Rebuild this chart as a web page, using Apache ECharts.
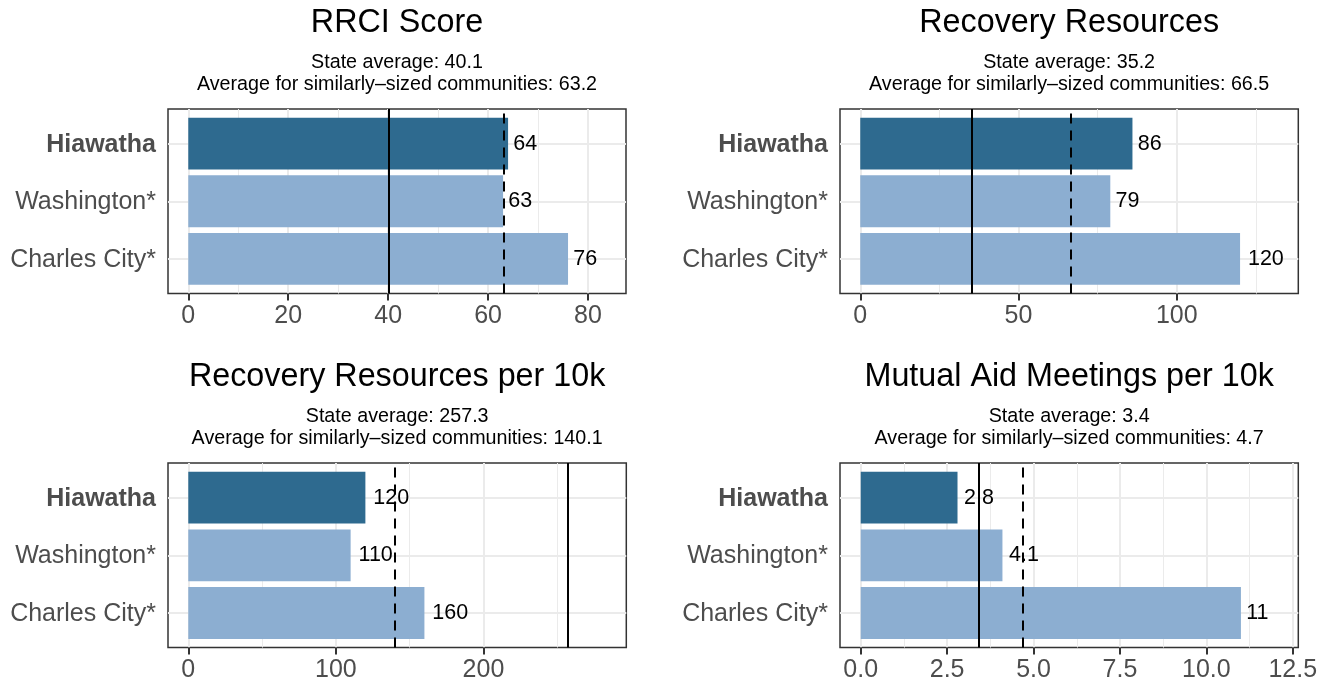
<!DOCTYPE html>
<html>
<head>
<meta charset="utf-8">
<script src="https://cdn.jsdelivr.net/npm/echarts@6/dist/echarts.min.js"></script>
<style>
  html, body { margin: 0; padding: 0; background: #fff; }
  #chart { width: 1328px; height: 683px; }
</style>
</head>
<body>
<div id="chart"></div>
<script>
const FONT = '"Liberation Sans", Arial, Helvetica, sans-serif';

// data
const categories = ['Hiawatha', 'Washington*', 'Charles City*'];
const focusCommunity = 'Hiawatha';
const panelTitles = ['RRCI Score', 'Recovery Resources', 'Recovery Resources per 10k', 'Mutual Aid Meetings per 10k'];
const rrciScore = [64, 63, 76];
const recoveryResources = [86, 79, 120];
const resourcesPer10k = [120, 110, 160];
const meetingsPer10k = [2.8, 4.1, 11];
const stateAverages = [40.1, 35.2, 257.3, 3.4];
const peerAverages = [63.2, 66.5, 140.1, 4.7];
const majorTicks = [[0, 20, 40, 60, 80], [0, 50, 100], [0, 100, 200], [0, 2.5, 5, 7.5, 10, 12.5]];
const minorTicks = [[10, 30, 50, 70], [25, 75, 125], [50, 150, 250], [1.25, 3.75, 6.25, 8.75, 11.25]];
const tickDecimals = [0, 0, 0, 1];

const panelValues = [rrciScore, recoveryResources, resourcesPer10k, meetingsPer10k];

const panelBoxes = [
  { left: 168, top: 109, width: 458, height: 184.5 },
  { left: 840, top: 109, width: 458.3, height: 184.5 },
  { left: 168, top: 463, width: 458.3, height: 184.7 },
  { left: 840, top: 463, width: 458.3, height: 184.7 }
];
const xRanges = [[-4.06, 87.6], [-6.4, 138.4], [-13.75, 296.8], [-0.6, 12.66]];

const DARK = '#2E6A8F';
const LIGHT = '#8CAED1';
const GRID_COLOR = '#EBEBEB';
const AXIS_TEXT = '#4D4D4D';
const AXIS_SIZE = 25;
const LABEL_SIZE = 21.5;

// ggplot-ish hjust: gap grows with label width
function labelGap(text) {
  let em = 0;
  for (const ch of text) em += ch === '.' ? 0.278 : 0.556;
  return 0.22 * em * LABEL_SIZE;
}

const grids = [], xAxes = [], yAxes = [], series = [], graphics = [];

panelBoxes.forEach((box, i) => {
  const unit = box.height / 3.2;
  const [xmin, xmax] = xRanges[i];
  const cx = box.left + box.width / 2;

  const frameGrid = grids.length;
  grids.push({
    left: box.left, top: box.top, width: box.width, height: box.height,
    show: true, borderColor: '#333333', borderWidth: 1.5, backgroundColor: '#fff'
  });
  const barGrid = grids.length;
  grids.push({ left: box.left, top: box.top + 0.1 * unit, width: box.width, height: 3 * unit });

  const majorX = xAxes.length;
  xAxes.push({
    type: 'value', gridIndex: frameGrid, min: xmin, max: xmax, position: 'bottom',
    axisLine: { show: false },
    axisTick: { customValues: majorTicks[i], length: 7, lineStyle: { color: '#333333', width: 2 } },
    axisLabel: {
      customValues: majorTicks[i], margin: 10.5, fontSize: AXIS_SIZE, color: AXIS_TEXT, fontFamily: FONT,
      formatter: v => Number(v).toFixed(tickDecimals[i])
    },
    splitLine: { show: true, lineStyle: { color: GRID_COLOR, width: 2 } }
  });
  xAxes.push({
    type: 'value', gridIndex: frameGrid, min: xmin, max: xmax, position: 'top',
    axisLine: { show: false },
    axisTick: { show: false, customValues: minorTicks[i] },
    axisLabel: { show: false, customValues: minorTicks[i] },
    splitLine: { show: true, lineStyle: { color: GRID_COLOR, width: 1 } }
  });
  const barX = xAxes.length;
  xAxes.push({ type: 'value', gridIndex: barGrid, min: xmin, max: xmax, show: false });

  const frameY = yAxes.length;
  yAxes.push({
    type: 'value', gridIndex: frameGrid, min: 0.4, max: 3.6,
    axisLine: { show: false },
    axisTick: { show: false, customValues: [1, 2, 3] },
    axisLabel: { show: false, customValues: [1, 2, 3] },
    splitLine: { show: true, lineStyle: { color: GRID_COLOR, width: 2 } }
  });
  const barY = yAxes.length;
  yAxes.push({
    type: 'category', gridIndex: barGrid, data: categories, inverse: true,
    axisLine: { show: false },
    axisTick: { alignWithLabel: true, length: 7, lineStyle: { color: '#333333', width: 2 } },
    axisLabel: {
      margin: 12, fontSize: AXIS_SIZE, color: AXIS_TEXT, fontFamily: FONT, padding: [2.5, 0, 0, 0],
      formatter: v => v === focusCommunity ? '{focus|' + v + '}' : v,
      rich: { focus: { fontWeight: 'bold', fontSize: AXIS_SIZE, color: AXIS_TEXT, fontFamily: FONT } }
    },
    splitLine: { show: false }
  });

  series.push({
    type: 'bar', xAxisIndex: barX, yAxisIndex: barY, barCategoryGap: '10%', z: 2,
    label: {
      show: true, position: 'right', fontSize: LABEL_SIZE, color: '#000', fontFamily: FONT,
      padding: [2.5, 0, 0, 0],
      formatter: p => String(p.value)
    },
    data: panelValues[i].map((v, k) => ({
      value: v,
      name: categories[k],
      itemStyle: { color: categories[k] === focusCommunity ? DARK : LIGHT },
      label: { distance: labelGap(String(v)) }
    }))
  });

  series.push({
    type: 'line', xAxisIndex: majorX, yAxisIndex: frameY, data: [], z: 5, silent: true,
    markLine: {
      silent: true, symbol: ['none', 'none'], label: { show: false },
      data: [
        { xAxis: stateAverages[i], lineStyle: { type: 'solid', color: '#000', width: 2 } },
        { xAxis: peerAverages[i], lineStyle: { type: [10, 7], color: '#000', width: 2 } }
      ]
    }
  });

  const t = box.top;
  graphics.push(
    { type: 'text', x: cx, y: t - 86, style: { text: panelTitles[i], fill: '#000', fontSize: 32.3, fontFamily: FONT, align: 'center', verticalAlign: 'middle' } },
    { type: 'text', x: cx, y: t - 46.3, style: { text: 'State average: ' + stateAverages[i], fill: '#000', fontSize: 19.7, fontFamily: FONT, align: 'center', verticalAlign: 'middle' } },
    { type: 'text', x: cx, y: t - 24.8, style: { text: 'Average for similarly\u2013sized communities: ' + peerAverages[i], fill: '#000', fontSize: 19.7, fontFamily: FONT, align: 'center', verticalAlign: 'middle' } }
  );
});

const chart = echarts.init(document.getElementById('chart'));
chart.setOption({
  animation: false,
  backgroundColor: '#fff',
  grid: grids,
  xAxis: xAxes,
  yAxis: yAxes,
  series: series,
  graphic: graphics
});
</script>
</body>
</html>
